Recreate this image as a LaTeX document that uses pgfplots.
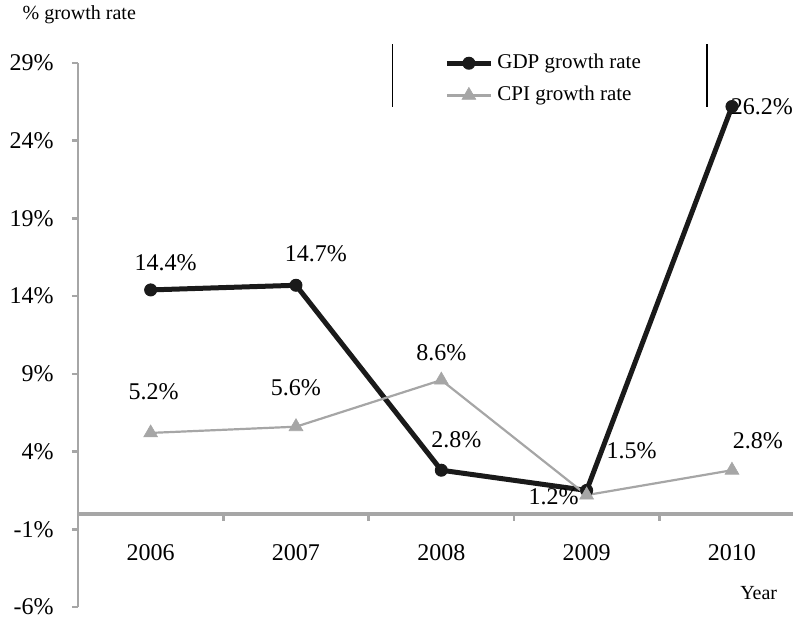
\documentclass[border=0pt]{standalone}
\usepackage{fontspec}
\setmainfont{Liberation Serif}
\usepackage{pgfplots}
\pgfplotsset{compat=1.18}

\definecolor{axgray}{RGB}{166,166,166}
\definecolor{cpigray}{RGB}{166,166,166}
\definecolor{gdpblack}{RGB}{26,26,26}

\begin{document}
\fontsize{12}{14}\selectfont
\begin{tikzpicture}
\begin{axis}[
  name=ax,
  scale only axis,
  width=357.5pt, height=272pt,
  xmin=-0.5, xmax=4.42,
  ymin=-6, ymax=29,
  clip=false,
  axis lines*=left,
  x axis line style={draw=none},
  y axis line style={axgray, line width=1.3pt},
  xtick={0,1,2,3,4},
  xticklabels={2006,2007,2008,2009,2010},
  xtick style={draw=none},
  xticklabel style={anchor=center, yshift=30pt},
  ytick={-6,-1,4,9,14,19,24,29},
  yticklabels={-6\%,-1\%,4\%,9\%,14\%,19\%,24\%,29\%},
  ytick style={axgray, line width=1.3pt},
  tick align=outside,
  major tick length=3pt,
  yticklabel style={xshift=-5pt},
  ylabel={\% growth rate},
  ylabel style={rotate=-90, anchor=west, font=\fontsize{10}{12}\selectfont,
    at={(axis description cs:-0.078,1.088)}, xshift=-4pt},
  xlabel={Year},
  xlabel style={anchor=center, font=\fontsize{10}{12}\selectfont,
    at={(axis description cs:0.952,0.026)}},
  legend style={draw=none, fill=none, at={(axis description cs:0.5035,0.970)}, anchor=west,
    row sep=3pt, font=\fontsize{10.5}{12.5}\selectfont},
  legend cell align=left,
  legend image code/.code={%
    \draw[mark repeat=2,mark phase=2,#1] plot coordinates {(0pt,0pt) (11pt,0pt) (22pt,0pt)};},
]
% GDP growth (drawn first so the CPI markers sit on top)
\addplot[gdpblack, line width=2.5pt, mark=*, mark size=3pt,
  mark options={fill=gdpblack, draw=gdpblack, line width=0.5pt}]
  coordinates {(0,14.4) (1,14.7) (2,2.8) (3,1.5) (4,26.2)};
\addlegendentry{GDP growth rate}
% CPI growth
\addplot[cpigray, line width=1.1pt, mark=triangle*, mark size=4pt,
  mark options={fill=cpigray, draw=cpigray, line width=0.3pt}]
  coordinates {(0,5.2) (1,5.6) (2,8.6) (3,1.2) (4,2.8)};
\addlegendentry{CPI growth rate}

% horizontal axis through zero with category separators
\draw[axgray, line width=2pt] (axis cs:-0.5,0) -- (axis cs:4.42,0);
\draw[axgray, line width=1.3pt] (axis cs:0.5,0) -- ([yshift=-3.5pt]axis cs:0.5,0);
\draw[axgray, line width=1.3pt] (axis cs:1.5,0) -- ([yshift=-3.5pt]axis cs:1.5,0);
\draw[axgray, line width=1.3pt] (axis cs:2.5,0) -- ([yshift=-3.5pt]axis cs:2.5,0);
\draw[axgray, line width=1.3pt] (axis cs:3.5,0) -- ([yshift=-3.5pt]axis cs:3.5,0);

% bracket lines around the legend
\draw[black, line width=0.7pt] (axis cs:1.663,30.2) -- (axis cs:1.663,26.2);
\draw[black, line width=0.7pt] (axis cs:3.828,30.2) -- (axis cs:3.828,26.2);

% value labels, GDP
\node at (axis cs:0,14.4) [xshift=7.5pt, yshift=13.5pt] {14.4\%};
\node at (axis cs:1,14.7) [xshift=10pt, yshift=16pt] {14.7\%};
\node at (axis cs:2,2.8) [xshift=7.5pt, yshift=15.5pt] {2.8\%};
\node at (axis cs:3,1.5) [xshift=22.5pt, yshift=20pt] {1.5\%};
\node at (axis cs:4,26.2) [xshift=15pt, yshift=0pt] {26.2\%};
% value labels, CPI
\node at (axis cs:0,5.2) [xshift=1.5pt, yshift=20.5pt] {5.2\%};
\node at (axis cs:1,5.6) [xshift=0pt, yshift=19.5pt] {5.6\%};
\node at (axis cs:2,8.6) [xshift=0pt, yshift=13.5pt] {8.6\%};
\node at (axis cs:3,1.2) [xshift=-16.5pt, yshift=-1pt] {1.2\%};
\node at (axis cs:4,2.8) [xshift=13pt, yshift=15pt] {2.8\%};
\end{axis}
\pgfresetboundingbox
\path (ax.south west) ++(-39pt,-7pt) rectangle ++(396.5pt,310.5pt);
\end{tikzpicture}
\end{document}
